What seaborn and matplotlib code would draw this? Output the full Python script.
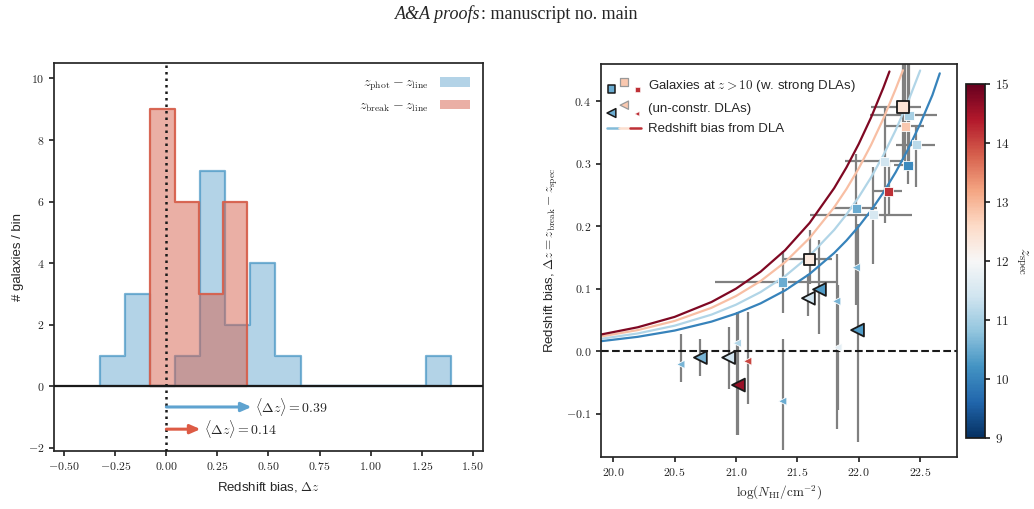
import matplotlib
matplotlib.use("Agg")
import matplotlib.pyplot as plt
import numpy as np
import pandas as pd
import seaborn as sns
from matplotlib.colors import Normalize, to_rgba
from matplotlib.legend_handler import HandlerPathCollection, HandlerTuple
from matplotlib.lines import Line2D
from matplotlib.patches import Patch
from matplotlib.ticker import FuncFormatter, MultipleLocator

# =============================================================================
# DATA - left panel: histograms of the redshift bias
# =============================================================================
phot_edges = [-0.326, -0.203, -0.080, 0.043, 0.166, 0.289, 0.411, 0.534,
              0.657, 0.780, 0.903, 1.026, 1.148, 1.271, 1.394]
phot_counts = [1, 3, 0, 1, 7, 2, 4, 1, 0, 0, 0, 0, 0, 1]

break_edges = [-0.078, 0.040, 0.158, 0.276, 0.394]
break_counts = [9, 6, 3, 6]

mean_phot = 0.39
mean_break = 0.14

# =============================================================================
# DATA - right panel: galaxies with strong DLAs (squares)
# =============================================================================
sq_logN = [22.36, 22.41, 22.38, 22.47, 22.21, 22.40, 22.245, 21.98, 22.12, 21.60, 21.38]
sq_dz = [0.391, 0.378, 0.360, 0.331, 0.304, 0.298, 0.256, 0.229, 0.219, 0.147, 0.111]
sq_zspec = [12.4, 11.0, 12.8, 11.2, 11.4, 10.1, 14.2, 10.5, 11.5, 12.3, 10.5]
sq_logN_lo = [0.26, 0.32, 0.16, 0.17, 0.32, 0.11, 0.12, 0.19, 0.52, 0.22, 0.55]
sq_logN_hi = [0.15, 0.23, 0.15, 0.15, 0.15, 0.05, 0.11, 0.17, 0.31, 0.18, 0.44]
sq_dz_lo = [0.085, 0.09, 0.06, 0.068, 0.099, 0.03, 0.04, 0.09, 0.079, 0.039, 0.050]
sq_dz_hi = [0.12, 0.10, 0.15, 0.03, 0.087, 0.17, 0.05, 0.087, 0.076, 0.047, 0.049]
sq_strong = [True, False, False, False, False, False, False, False, False, True, False]

# un-constrained DLAs (triangles)
tri_logN = [21.68, 21.59, 21.82, 21.98, 21.99, 21.83, 21.38, 20.71, 20.55, 20.94, 21.01, 21.02, 21.095]
tri_dz = [0.099, 0.085, 0.080, 0.134, 0.034, 0.006, -0.080, -0.010, -0.021, -0.010, 0.013, -0.054, -0.016]
tri_zspec = [10.3, 11.4, 10.6, 10.6, 10.3, 11.7, 10.5, 10.6, 10.6, 11.4, 11.1, 14.6, 14.0]
tri_dz_lo = [0.071, 0.029, 0.204, 0.06, 0.179, 0.10, 0.078, 0.030, 0.028, 0.050, 0.147, 0.08, 0.068]
tri_dz_hi = [0.079, 0.039, 0.076, 0.06, 0.17, 0.10, 0.10, 0.029, 0.049, 0.049, 0.05, 0.117, 0.079]
tri_strong = [True, True, False, False, True, False, False, True, False, True, False, True, False]

# redshift bias from DLA (one curve per redshift)
curve_z = [10.0, 11.1, 12.9, 14.8]
curve_logN_z10 = [19.9, 20.2, 20.5, 20.8, 21.0, 21.2, 21.4, 21.6, 21.8, 21.9, 22.0,
                  22.1, 22.2, 22.3, 22.4, 22.5, 22.6, 22.66]
curve_dz_z10 = [0.0162, 0.0232, 0.0332, 0.0475, 0.0604, 0.0767, 0.0975, 0.1239, 0.1574,
                0.1774, 0.200, 0.2254, 0.2541, 0.2864, 0.3229, 0.3639, 0.4102, 0.445]
curve_logN_z11 = [19.9, 20.2, 20.5, 20.8, 21.0, 21.2, 21.4, 21.6, 21.8, 21.9, 22.0,
                  22.1, 22.2, 22.3, 22.4, 22.5]
curve_dz_z11 = [0.0200, 0.0286, 0.0410, 0.0587, 0.0746, 0.0948, 0.1204, 0.1530, 0.1944,
                0.2191, 0.247, 0.2784, 0.3138, 0.3538, 0.3988, 0.4495]
curve_logN_z13 = [19.9, 20.2, 20.5, 20.8, 21.0, 21.2, 21.4, 21.6, 21.8, 21.9, 22.0,
                  22.1, 22.2, 22.3, 22.36]
curve_dz_z13 = [0.0237, 0.0340, 0.0486, 0.0696, 0.0885, 0.1124, 0.1428, 0.1815, 0.2306,
                0.2599, 0.293, 0.3303, 0.3723, 0.4196, 0.45]
curve_logN_z15 = [19.9, 20.2, 20.5, 20.8, 21.0, 21.2, 21.4, 21.6, 21.8, 21.9, 22.0,
                  22.1, 22.2, 22.25]
curve_dz_z15 = [0.0269, 0.0385, 0.0551, 0.0789, 0.1003, 0.1274, 0.1619, 0.2056, 0.2613,
                0.2945, 0.332, 0.3742, 0.4218, 0.448]

# =============================================================================
# STYLE
# =============================================================================
sns.set_theme(style="ticks")
plt.rcParams["font.family"] = ["Liberation Sans", "DejaVu Sans"]
plt.rcParams["mathtext.fontset"] = "cm"
plt.rcParams["axes.edgecolor"] = "0.15"
plt.rcParams["xtick.major.size"] = 3.5
plt.rcParams["ytick.major.size"] = 3.5

BLUE = "#4393c3"
RED = "#d6604d"
CMAP = "RdBu_r"
norm = Normalize(9, 15)
cmap = plt.get_cmap(CMAP)

fig = plt.figure(figsize=(10.34, 5.09), dpi=100)
ax1 = fig.add_axes([0.0522, 0.1139, 0.4149, 0.7623])
ax2 = fig.add_axes([0.5812, 0.1012, 0.3443, 0.7731])
cax = fig.add_axes([0.9342, 0.1395, 0.0184, 0.6955])

fig.text(0.465, 0.972, "A&A proofs", ha="right", va="center", style="italic",
         family="Liberation Serif", fontsize=13)
fig.text(0.465, 0.972, ": manuscript no. main", ha="left", va="center",
         family="Liberation Serif", fontsize=13)


def math_fmt(fmt):
    return FuncFormatter(lambda v, p: "$" + fmt.format(v) + "$")


# =============================================================================
# LEFT PANEL
# =============================================================================
phot_centers = 0.5 * (np.array(phot_edges[:-1]) + np.array(phot_edges[1:]))
break_centers = 0.5 * (np.array(break_edges[:-1]) + np.array(break_edges[1:]))

sns.histplot(x=phot_centers, weights=phot_counts, bins=phot_edges, element="step",
             fill=True, color=BLUE, alpha=0.4, edgecolor=to_rgba(BLUE, 0.7),
             linewidth=1.6, ax=ax1)
sns.histplot(x=break_centers, weights=break_counts, bins=break_edges, element="step",
             fill=True, color=RED, alpha=0.5, edgecolor=to_rgba(RED, 0.95),
             linewidth=1.6, ax=ax1)

ax1.axhline(0, color="k", lw=1.6, zorder=4)
ax1.axvline(0, color="k", lw=1.8, ls=(0, (1, 1.6)), zorder=5)

arrow_rows = [(mean_phot, -0.67, "#5fa3d0"), (mean_break, -1.39, "#dd5b45")]
for mean, yy, col in arrow_rows:
    ax1.annotate("", xy=(mean + 0.027, yy), xytext=(0, yy),
                 arrowprops=dict(arrowstyle="-|>,head_length=0.5,head_width=0.22",
                                 color=col, lw=2.2, shrinkA=0, shrinkB=0), zorder=6)
    ax1.text(mean + 0.045, yy, r"$\langle \Delta z \rangle = %.2f$" % mean,
             va="center", ha="left", fontsize=10)

ax1.set_xlim(-0.55, 1.55)
ax1.set_ylim(-2.1, 10.5)
ax1.xaxis.set_major_locator(MultipleLocator(0.25))
ax1.yaxis.set_major_locator(MultipleLocator(2))
ax1.xaxis.set_major_formatter(math_fmt("{:.2f}"))
ax1.yaxis.set_major_formatter(math_fmt("{:.0f}"))
ax1.tick_params(labelsize=8.5)
ax1.set_xlabel(r"Redshift bias, $\Delta z$", fontsize=9.5, labelpad=5)
ax1.set_ylabel("# galaxies / bin", fontsize=9.5, labelpad=3)

hist_handles = [Patch(facecolor=to_rgba(BLUE, 0.4), edgecolor="none"),
                Patch(facecolor=to_rgba(RED, 0.5), edgecolor="none")]
ax1.legend(hist_handles, [r"$z_{\rm phot} - z_{\rm line}$", r"$z_{\rm break} - z_{\rm line}$"],
           loc="upper right", markerfirst=False, frameon=False, fontsize=10,
           handlelength=2.2, labelspacing=0.4)

# =============================================================================
# RIGHT PANEL
# =============================================================================
df_sq = pd.DataFrame({"logN": sq_logN, "dz": sq_dz, "zspec": sq_zspec, "strong": sq_strong})
df_tri = pd.DataFrame({"logN": tri_logN, "dz": tri_dz, "zspec": tri_zspec, "strong": tri_strong})

curve_frames = []
for zc, xs, ys in zip(curve_z,
                      [curve_logN_z10, curve_logN_z11, curve_logN_z13, curve_logN_z15],
                      [curve_dz_z10, curve_dz_z11, curve_dz_z13, curve_dz_z15]):
    curve_frames.append(pd.DataFrame({"logN": xs, "dz": ys, "zspec": zc}))
df_curves = pd.concat(curve_frames, ignore_index=True)

sns.lineplot(data=df_curves, x="logN", y="dz", hue="zspec", palette=CMAP, hue_norm=norm,
             units="zspec", estimator=None, lw=1.6, legend=False, ax=ax2, zorder=2)

ax2.errorbar(sq_logN, sq_dz, xerr=[sq_logN_lo, sq_logN_hi], yerr=[sq_dz_lo, sq_dz_hi],
             fmt="none", ecolor="0.5", elinewidth=1.6, capsize=0, zorder=1)
ax2.errorbar(tri_logN, tri_dz, yerr=[tri_dz_lo, tri_dz_hi],
             fmt="none", ecolor="0.5", elinewidth=1.6, capsize=0, zorder=1)

ax2.axhline(0, color="k", ls="--", lw=1.5, zorder=2)

marker_groups = [
    (df_tri[~df_tri.strong], "<", 36, "w", 0.6),
    (df_tri[df_tri.strong], "<", 85, "k", 1.3),
    (df_sq[~df_sq.strong], "s", 45, "w", 0.6),
    (df_sq[df_sq.strong], "s", 68, "k", 1.3),
]
for df, mk, size, ec, lw in marker_groups:
    sns.scatterplot(data=df, x="logN", y="dz", hue="zspec", palette=CMAP, hue_norm=norm,
                    marker=mk, s=size, edgecolor=ec, linewidth=lw, legend=False,
                    ax=ax2, zorder=3)

ax2.set_xlim(19.9, 22.8)
ax2.set_ylim(-0.17, 0.46)
ax2.xaxis.set_major_locator(MultipleLocator(0.5))
ax2.yaxis.set_major_locator(MultipleLocator(0.1))
ax2.xaxis.set_major_formatter(math_fmt("{:.1f}"))
ax2.yaxis.set_major_formatter(math_fmt("{:.1f}"))
ax2.tick_params(labelsize=8.5)
ax2.set_xlabel(r"$\log(N_{\rm HI}/{\rm cm^{-2}})$", fontsize=9.5, labelpad=3)
ax2.set_ylabel(r"Redshift bias, $\Delta z = z_{\rm break} - z_{\rm spec}$", fontsize=9.5,
               labelpad=4)

# legend proxies: scatter artists taken off the axes again (three markers per row)
legend_z = [10.5, 12.8, 14.2]
legend_colors = [cmap(norm(v)) for v in legend_z]
legend_edges = ["k", "0.6", "w"]
legend_lw = [1.1, 0.9, 0.4]
sq_proxy = ax2.scatter(sq_logN[:3], sq_dz[:3], marker="s", facecolors=legend_colors,
                       edgecolors=legend_edges, linewidths=legend_lw)
tri_proxy = ax2.scatter(tri_logN[:3], tri_dz[:3], marker="<", facecolors=legend_colors,
                        edgecolors=legend_edges, linewidths=legend_lw)
sq_proxy.remove()
tri_proxy.remove()
line_proxy = tuple(Line2D([], [], color=cmap(norm(v)), lw=1.8) for v in [10.7, 12.5, 14.2])

ax2.legend([sq_proxy, tri_proxy, line_proxy],
           [r"Galaxies at $z > 10$ (w. strong DLAs)", "(un-constr. DLAs)",
            "Redshift bias from DLA"],
           handler_map={sq_proxy: HandlerPathCollection(yoffsets=[-0.05, 0.75, -0.05],
                                                        sizes=[32, 32, 13], numpoints=3),
                        tri_proxy: HandlerPathCollection(yoffsets=[-0.15, 0.7, -0.25],
                                                         sizes=[40, 36, 12], numpoints=3),
                        tuple: HandlerTuple(ndivide=None, pad=0)},
           loc="upper left", bbox_to_anchor=(-0.015, 0.995), frameon=False,
           fontsize=9.5, handlelength=2.55, handletextpad=0.5, borderaxespad=0.5,
           labelspacing=0.65)

# colorbar
sm = plt.cm.ScalarMappable(norm=norm, cmap=cmap)
cbar = fig.colorbar(sm, cax=cax)
cbar.set_ticks(range(9, 16))
cax.yaxis.set_major_formatter(math_fmt("{:.0f}"))
cax.tick_params(labelsize=9.5)
cbar.outline.set_edgecolor("k")
cbar.set_label(r"$z_{\rm spec}$", rotation=270, va="bottom", fontsize=11, labelpad=3)

fig.savefig("out.png", dpi=100)
